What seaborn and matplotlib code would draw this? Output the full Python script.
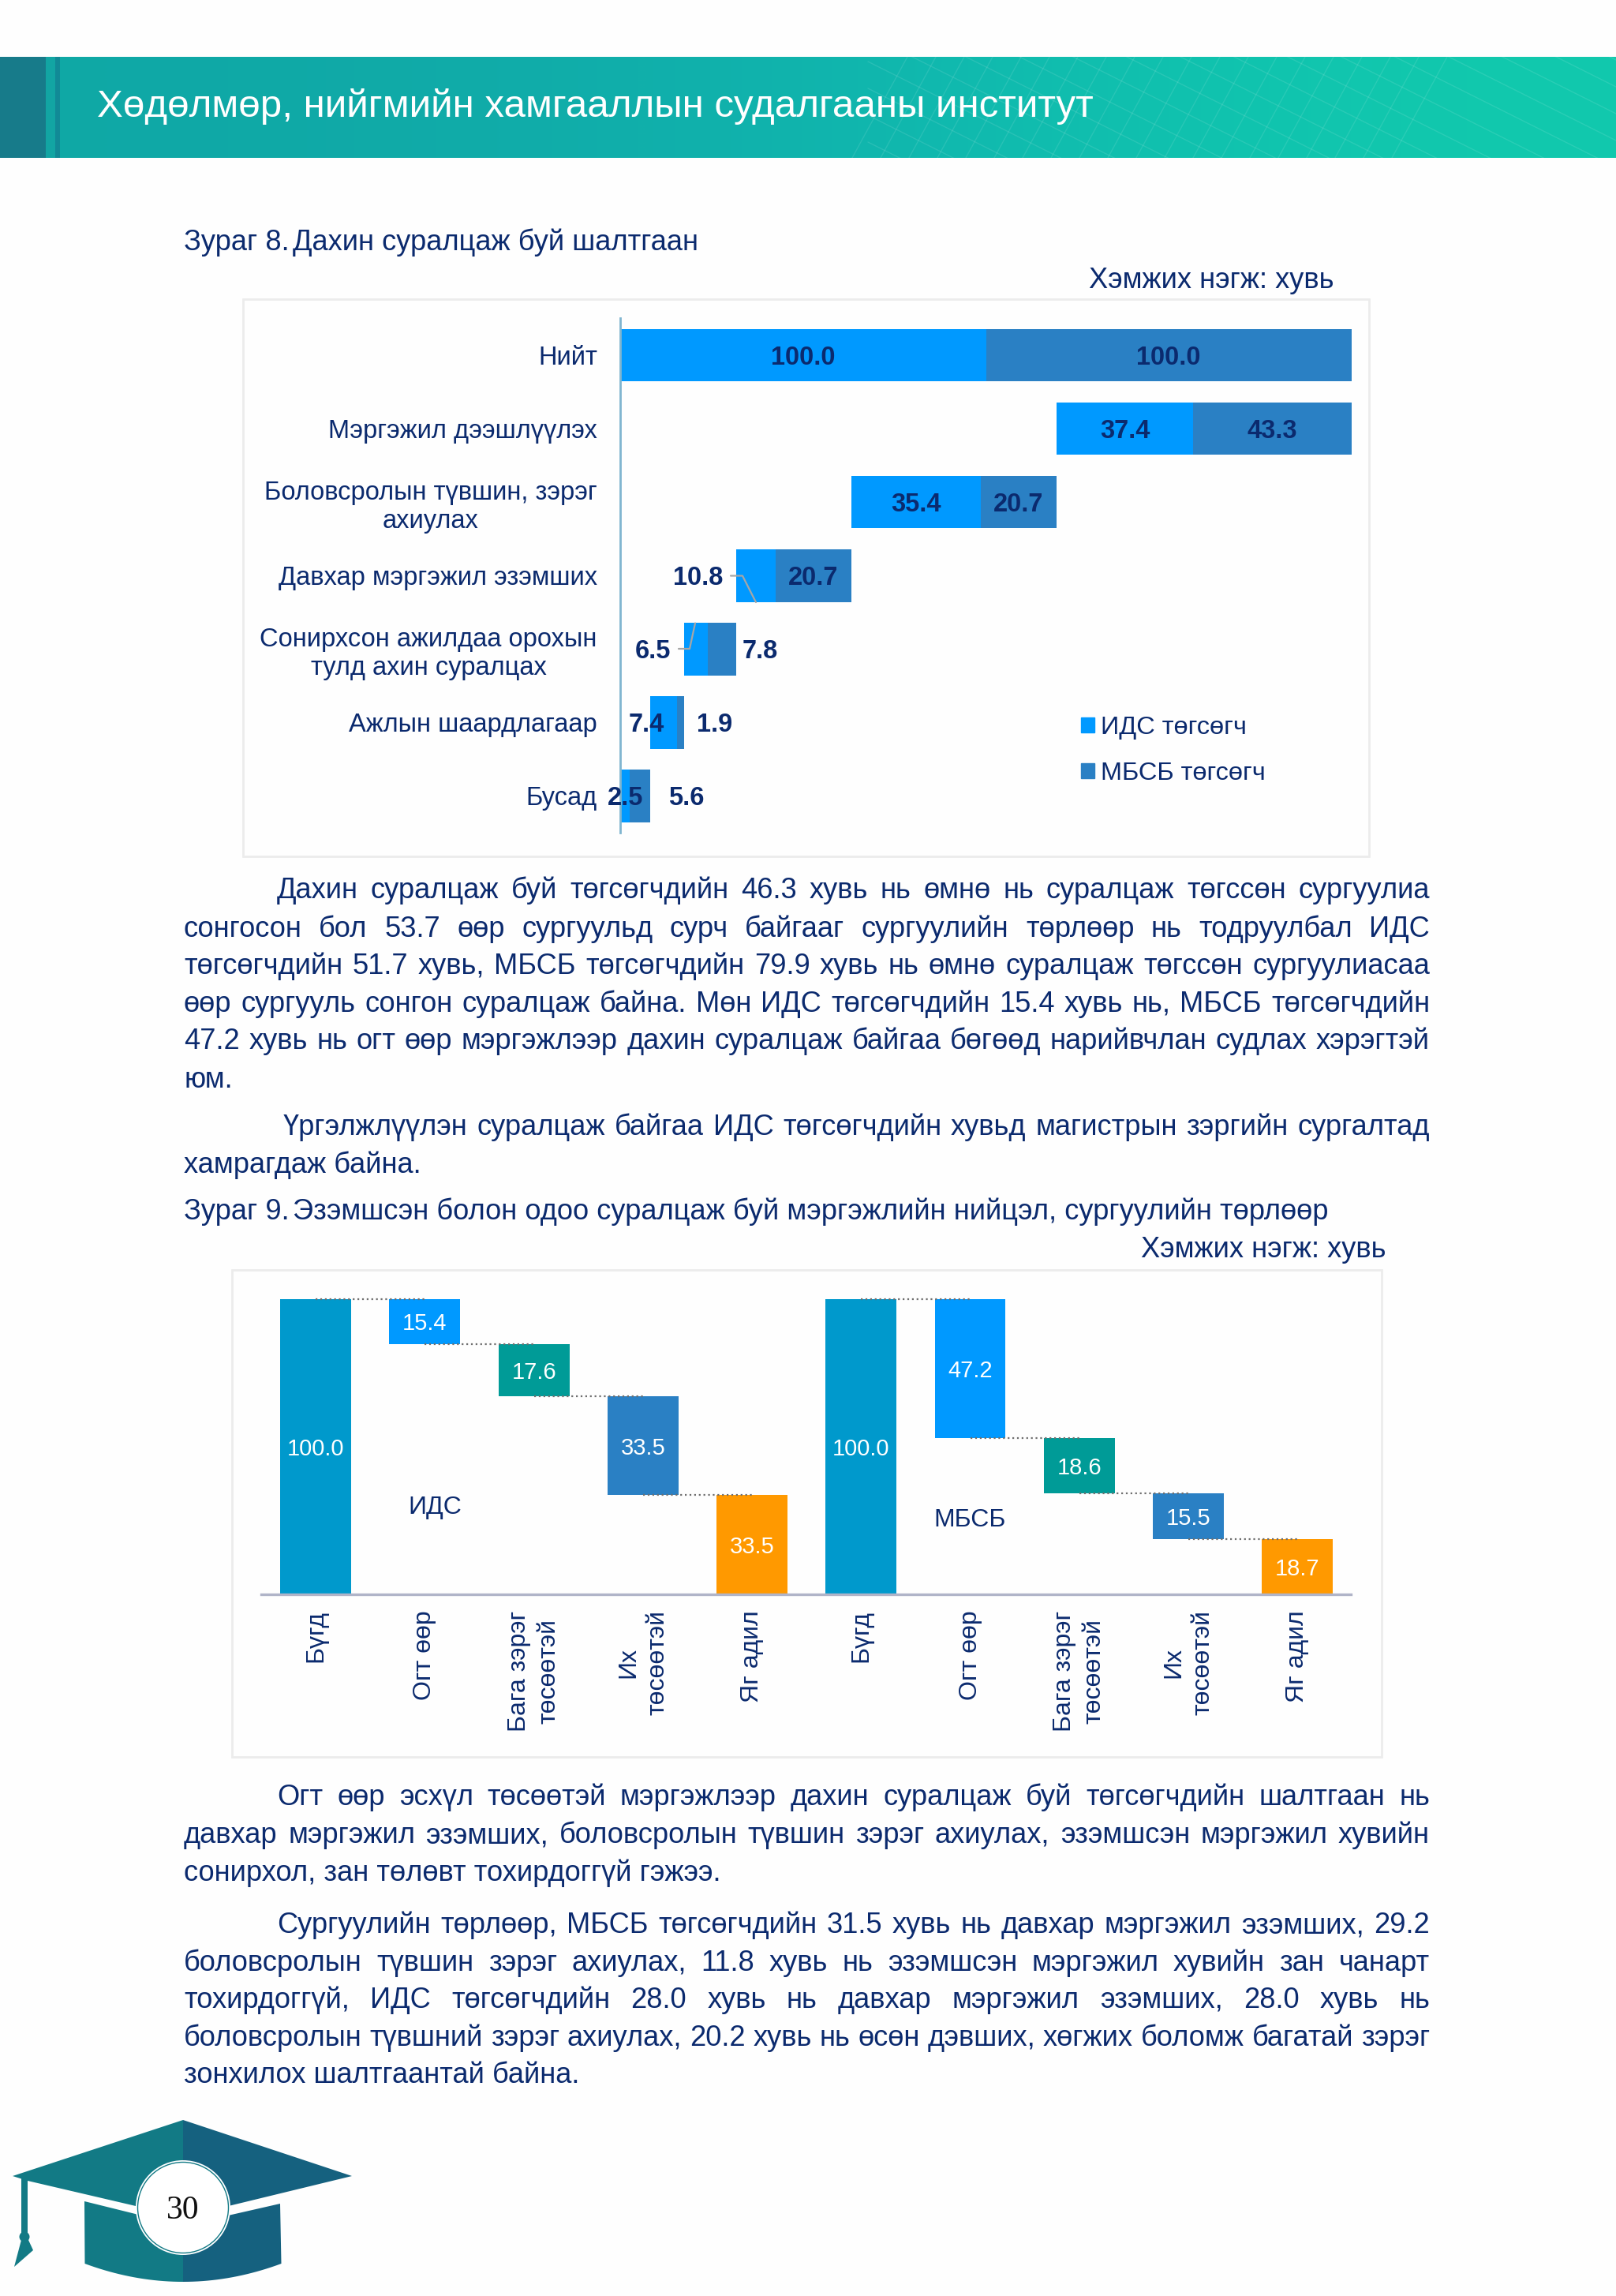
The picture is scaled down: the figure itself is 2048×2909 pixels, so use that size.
import numpy as np
import matplotlib
matplotlib.use("Agg")
import matplotlib.pyplot as plt
from matplotlib.patches import Polygon, Circle, Rectangle, Patch
import seaborn as sns

# ---------- data ----------
reason_labels = ["Нийт", "Мэргэжил дээшлүүлэх", "Боловсролын түвшин, зэрэг\nахиулах",
                 "Давхар мэргэжил эзэмших", "Сонирхсон ажилдаа орохын\nтулд ахин суралцах",
                 "Ажлын шаардлагаар", "Бусад"]
ids_share = [100.0, 37.4, 35.4, 10.8, 6.5, 7.4, 2.5]
mbsb_share = [100.0, 43.3, 20.7, 20.7, 7.8, 1.9, 5.6]
legend_labels = ["ИДС төгсөгч", "МБСБ төгсөгч"]

match_labels = ["Бүгд", "Огт өөр", "Бага зэрэг\nтөсөөтэй", "Их\nтөсөөтэй", "Яг адил"]
ids_match = [100.0, 15.4, 17.6, 33.5, 33.5]
mbsb_match = [100.0, 47.2, 18.6, 15.5, 18.7]
match_colors = ["#0099cc", "#0099ff", "#009b97", "#2a80c4", "#ff9900"]

header_title = "Хөдөлмөр, нийгмийн хамгааллын судалгааны институт"
NAVY = "#0b2a6e"
BODY = 26.1

sns.set_theme(style="white")
plt.rcParams["font.family"] = ["Liberation Sans", "DejaVu Sans"]

fig = plt.figure(figsize=(20.48, 29.09), dpi=100, facecolor="#fefefe")
page = fig.add_axes([0, 0, 1, 1])
page.axis("off")
renderer = fig.canvas.get_renderer()


def axes_px(x0, x1, y0, y1):
    a = fig.add_axes([x0 / 2048, 1 - y1 / 2909, (x1 - x0) / 2048, (y1 - y0) / 2909])
    a.patch.set_alpha(0)
    return a


# ---------- header ----------
grad = np.array([[[0.06, 0.66, 0.65], [0.07, 0.68, 0.67], [0.06, 0.74, 0.69], [0.07, 0.79, 0.68]]])
page.imshow(grad, extent=(76, 2048, 200, 72), aspect="auto", interpolation="bicubic", zorder=1)
page.add_patch(Rectangle((0, 72), 58, 128, color="#177b8a", lw=0, zorder=2))
page.add_patch(Rectangle((58, 72), 12, 128, color="#12a5a3", lw=0, zorder=2))
page.add_patch(Rectangle((70, 72), 6, 128, color="#118a96", lw=0, zorder=2))
page.set_xlim(0, 2048)
page.set_ylim(2909, 0)
band = Rectangle((76, 72), 1972, 128, transform=page.transData)
for c in np.arange(-500, 1100, 34):
    ln, = page.plot([1100, 2048], [c, c + 0.5 * 948], color="white", alpha=0.10, lw=1, zorder=2)
    ln.set_clip_path(band)
for c in np.arange(1150, 1850, 36):
    ln, = page.plot([c, c - 70], [72, 200], color="white", alpha=0.10, lw=1, zorder=2)
    ln.set_clip_path(band)
page.text(123, 148, header_title, color="white", fontsize=35.5, va="baseline", zorder=3)


# ---------- text ----------
def txt(x, y, s, ha="left", size=BODY):
    return page.text(x, y, s, color=NAVY, fontsize=size, ha=ha, va="baseline")


def justified(y, x0, x1, s):
    words = s.split(" ")
    items = [txt(0, y, w) for w in words]
    widths = [t.get_window_extent(renderer).width for t in items]
    gap = (x1 - x0 - sum(widths)) / (len(words) - 1)
    x = x0
    for t, w in zip(items, widths):
        t.set_x(x)
        x += w + gap


L, R = 233, 1812
txt(L, 317, "Зураг 8.")
txt(371, 317, "Дахин суралцаж буй шалтгаан")
txt(1691, 365, "Хэмжих нэгж: хувь", ha="right")
justified(1138, 351, R, "Дахин суралцаж буй төгсөгчдийн 46.3 хувь нь өмнө нь суралцаж төгссөн сургуулиа")
justified(1187, L, R, "сонгосон бол 53.7 өөр сургуульд сурч байгааг сургуулийн төрлөөр нь тодруулбал ИДС")
justified(1234, L, R, "төгсөгчдийн 51.7 хувь, МБСБ төгсөгчдийн 79.9 хувь нь өмнө суралцаж төгссөн сургуулиасаа")
justified(1282, L, R, "өөр сургууль сонгон суралцаж байна. Мөн ИДС төгсөгчдийн 15.4 хувь нь, МБСБ төгсөгчдийн")
justified(1329, L, R, "47.2 хувь нь огт өөр мэргэжлээр дахин суралцаж байгаа бөгөөд нарийвчлан судлах хэрэгтэй")
txt(L, 1378, "юм.")
justified(1438, 359, R, "Үргэлжлүүлэн суралцаж байгаа ИДС төгсөгчдийн хувьд магистрын зэргийн сургалтад")
txt(L, 1486, "хамрагдаж байна.")
txt(L, 1545, "Зураг 9.")
txt(371, 1545, "Эзэмшсэн болон одоо суралцаж буй мэргэжлийн нийцэл, сургуулийн төрлөөр")
txt(1757, 1593, "Хэмжих нэгж: хувь", ha="right")
justified(2287, 351, R, "Огт өөр эсхүл төсөөтэй мэргэжлээр дахин суралцаж буй төгсөгчдийн шалтгаан нь")
justified(2335, L, R, "давхар мэргэжил эзэмших, боловсролын түвшин зэрэг ахиулах, эзэмшсэн мэргэжил хувийн")
txt(L, 2383, "сонирхол, зан төлөвт тохирдоггүй гэжээ.")
justified(2449, 351, R, "Сургуулийн төрлөөр, МБСБ төгсөгчдийн 31.5 хувь нь давхар мэргэжил эзэмших, 29.2")
justified(2497, L, R, "боловсролын түвшин зэрэг ахиулах, 11.8 хувь нь эзэмшсэн мэргэжил хувийн зан чанарт")
justified(2544, L, R, "тохирдоггүй, ИДС төгсөгчдийн 28.0 хувь нь давхар мэргэжил эзэмших, 28.0 хувь нь")
justified(2592, L, R, "боловсролын түвшний зэрэг ахиулах, 20.2 хувь нь өсөн дэвших, хөгжих боломж багатай зэрэг")
txt(L, 2639, "зонхилох шалтгаантай байна.")

# chart frames
page.add_patch(Rectangle((308, 379), 1427, 706, fc="#fefefe", ec="#ececec", lw=2, zorder=1))
page.add_patch(Rectangle((294, 1609), 1457, 617, fc="#fefefe", ec="#ececec", lw=2, zorder=1))

# ---------- chart 1: stacked bridge ----------
ax1 = axes_px(786, 1713, 403.5, 1055)
ids_arr = np.array(ids_share)
mbsb_arr = np.array(mbsb_share)
totals = ids_arr + mbsb_arr
starts = np.zeros(len(totals))
starts[1:] = 200 - np.cumsum(totals[1:])
sns.barplot(x=ids_arr, y=reason_labels, left=starts, color="#0099ff", saturation=1, linewidth=0,
            width=0.715, errorbar=None, orient="h", ax=ax1)
sns.barplot(x=mbsb_arr, y=reason_labels, left=starts + ids_arr, color="#2a80c4", saturation=1,
            linewidth=0, width=0.715, errorbar=None, orient="h", ax=ax1)
ax1.set_xlim(0, 200)
ax1.set_ylim(6.5, -0.5)
ax1.set_xlabel("")
ax1.set_ylabel("")
ax1.set_xticks([])
ax1.tick_params(axis="y", length=0, pad=21, labelsize=23.5, labelcolor=NAVY)
for t in ax1.get_yticklabels():
    t.set_multialignment("center")
    t.set_linespacing(1.22)
sns.despine(ax=ax1, top=True, right=True, bottom=True)
ax1.spines["left"].set_color("#7fb5cf")
ax1.spines["left"].set_linewidth(2)


def vlab(x, row, s, dx=0, ha="center"):
    ax1.annotate(s, xy=(x, row), xytext=(dx, -3), textcoords="offset pixels", ha=ha, va="center",
                 color=NAVY, fontsize=23.5, fontweight="bold", zorder=6)


for r in (0, 1, 2):
    vlab(starts[r] + ids_arr[r] / 2, r, f"{ids_arr[r]:.1f}")
for r in (0, 1, 2, 3):
    vlab(starts[r] + ids_arr[r] + mbsb_arr[r] / 2, r, f"{mbsb_arr[r]:.1f}")
vlab(starts[3], 3, "10.8", dx=-17, ha="right")
vlab(starts[4], 4, "6.5", dx=-17, ha="right")
vlab(starts[4] + totals[4], 4, "7.8", dx=8, ha="left")
vlab(starts[5], 5, "7.4", dx=-4)
vlab(starts[5] + totals[5], 5, "1.9", dx=16, ha="left")
vlab(starts[6], 6, "2.5", dx=7)
vlab(starts[6] + totals[6], 6, "5.6", dx=23, ha="left")
page_leader = [([926, 941, 958], [729.5, 729.5, 763]), ([860, 874, 881], [822, 822, 789.5])]
for xs, ys in page_leader:
    fig.add_artist(plt.Line2D(np.array(xs) / 2048, 1 - np.array(ys) / 2909, color="#a6a6a6", lw=1.6, zorder=7))

leg = ax1.legend(handles=[Patch(color="#0099ff"), Patch(color="#2a80c4")], labels=legend_labels,
                 loc="center left", bbox_to_anchor=(1370, 951), bbox_transform=page.transData,
                 frameon=False, fontsize=23.4, labelcolor=NAVY, handlelength=0.52, handleheight=0.52,
                 handletextpad=0.25, labelspacing=0.85, borderpad=0, borderaxespad=0)

# ---------- chart 2: two waterfalls ----------
ax2 = axes_px(331, 1712, 1645.7, 2019.6)
values = ids_match + mbsb_match
tops = []
for group in (ids_match, mbsb_match):
    g = np.array(group)
    tops += [g[0]] + list(g[0] - np.r_[0, np.cumsum(g[1:-1])])
tops = np.array(tops)
bottoms = tops - np.array(values)
names = [f"{i}" for i in range(len(values))]
colors = match_colors * 2
for n, v, b, c in zip(names, values, bottoms, colors):
    sns.barplot(x=[n], y=[v], order=names, bottom=b, color=c, saturation=1, width=0.65, linewidth=0,
                errorbar=None, ax=ax2)
for i, (v, b) in enumerate(zip(values, bottoms)):
    ax2.annotate(f"{v:.1f}", xy=(i, b + v / 2), xytext=(0, -3), textcoords="offset pixels", color="white",
                 fontsize=21, ha="center", va="center", zorder=5)
for i in range(len(values) - 1):
    if i == 4:
        continue
    ax2.plot([i, i + 1], [tops[i + 1]] * 2, color="#6f6f6f", ls=":", lw=1.6, zorder=4, clip_on=False)
ax2.set_xlim(-0.5, 9.49)
ax2.set_ylim(0, 100)
ax2.set_xlabel("")
ax2.set_ylabel("")
ax2.set_yticks([])
ax2.set_xticks(range(10))
ax2.set_xticklabels(match_labels * 2, rotation=90, ha="center", va="top", multialignment="center",
                    fontsize=23, color=NAVY, linespacing=1.3)
ax2.tick_params(axis="x", length=0, pad=15)
sns.despine(ax=ax2, top=True, right=True, left=True)
ax2.spines["bottom"].set_color("#b0b4c8")
ax2.spines["bottom"].set_linewidth(2.4)
page.text(551, 1910, "ИДС", color=NAVY, fontsize=23, ha="center", va="center", zorder=5)
page.text(1229, 1926, "МБСБ", color=NAVY, fontsize=23, ha="center", va="center", zorder=5)

# ---------- footer cap ----------
TEAL, BLUE = "#127a85", "#15617f"
page.add_patch(Polygon([(16, 2757), (232, 2686), (232, 2809), (35, 2763)], color=TEAL, lw=0))
page.add_patch(Polygon([(232, 2686), (446, 2757), (232, 2809)], color=BLUE, lw=0))
t = np.linspace(-1, 1, 41)
arc_x = 232 + 124.5 * t
arc_y = 2891 - 23 * t ** 2
left = t <= 0
right = t >= 0
page.add_patch(Polygon([(107, 2789), (232, 2820)] + list(zip(arc_x[left][::-1], arc_y[left][::-1])), color=TEAL, lw=0))
page.add_patch(Polygon([(232, 2820), (355, 2792)] + list(zip(arc_x[right][::-1], arc_y[right][::-1])), color=BLUE, lw=0))
page.add_patch(Rectangle((27, 2757), 8, 78, color=TEAL, lw=0))
page.add_patch(Circle((31, 2834), 6.5, color=TEAL, lw=0))
page.add_patch(Polygon([(27, 2838), (36, 2838), (42, 2851), (18, 2872)], color=TEAL, lw=0))
page.add_patch(Circle((232, 2797), 60, fc="white", ec="white", lw=0, zorder=3))
page.add_patch(Circle((232, 2797), 57.5, fc="white", ec=TEAL, lw=1, zorder=4))
page.text(232, 2811, "30", color="#111111", fontsize=30, family="Liberation Serif", ha="center",
          va="baseline", zorder=5)

fig.savefig("out.png", dpi=100, facecolor=fig.get_facecolor())
